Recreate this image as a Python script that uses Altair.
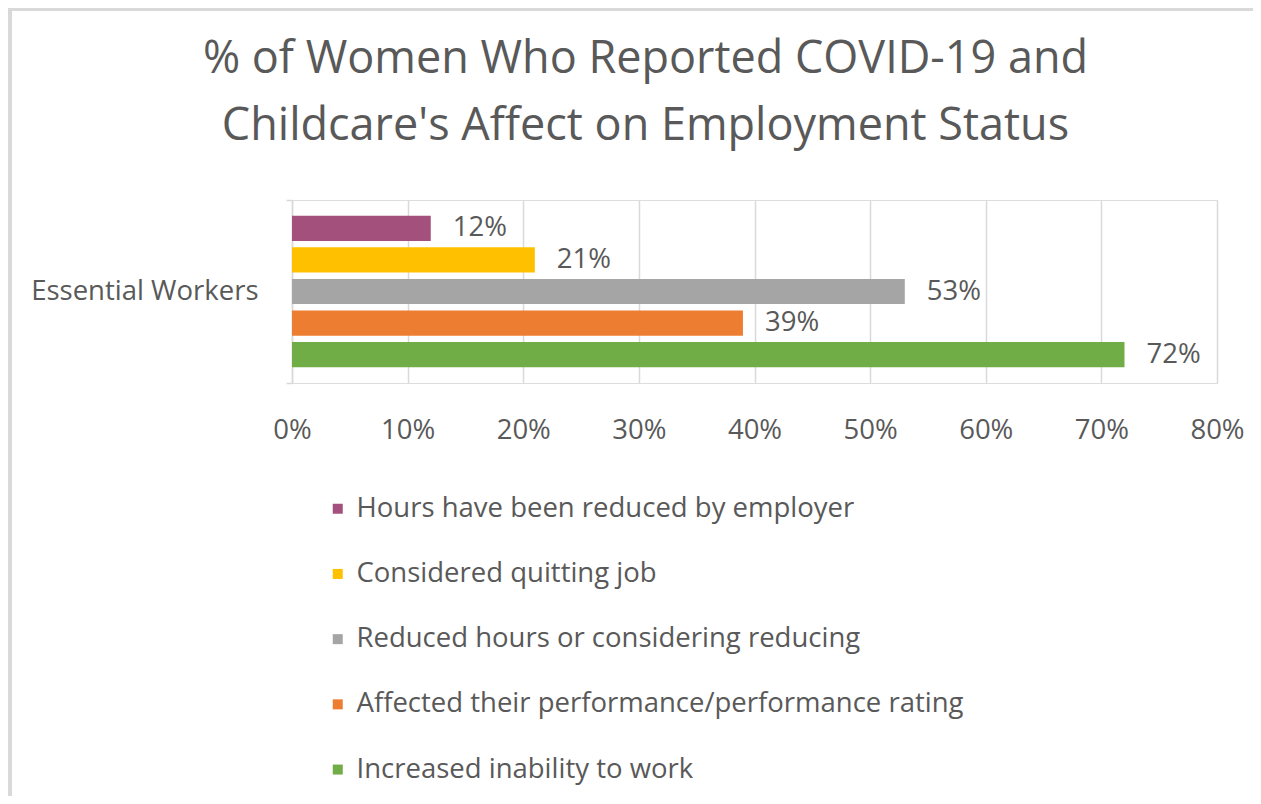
import altair as alt
import pandas as pd

group = "Essential Workers"
series = [
    "Hours have been reduced by employer",
    "Considered quitting job",
    "Reduced hours or considering reducing",
    "Affected their performance/performance rating",
    "Increased inability to work",
]
values = [0.12, 0.21, 0.53, 0.39, 0.72]
colors = ["#A4507D", "#FFC000", "#A5A5A5", "#ED7D31", "#70AD47"]
x_ticks = [0, 0.1, 0.2, 0.3, 0.4, 0.5, 0.6, 0.7, 0.8]

df = pd.DataFrame({"group": [group] * len(series), "series": series, "value": values})

FONT = "Open Sans"
TXT = "#595959"
GRID = "#D9D9D9"
FS = 27.5

base = alt.Chart(df)

y_enc = alt.Y("group:N", title=None,
              scale=alt.Scale(paddingInner=0, paddingOuter=0),
              axis=alt.Axis(labelFontSize=FS, labelFont=FONT, labelColor=TXT,
                            domainColor=GRID, domainWidth=1.5, tickColor=GRID,
                            tickWidth=1.5, tickSize=6, tickBand="extent",
                            labelPadding=28, labelLimit=400, grid=False))
yoff = alt.YOffset("series:N", sort=series,
                   scale=alt.Scale(paddingInner=0.2, paddingOuter=0.5))
x_enc = alt.X("value:Q", title=None,
              scale=alt.Scale(domain=[0, 0.8], nice=False),
              axis=alt.Axis(values=x_ticks, format=".0%", grid=True, gridColor=GRID,
                            gridWidth=1.5, domain=False, ticks=False, labelFlush=False,
                            labelFontSize=FS, labelFont=FONT, labelColor=TXT,
                            labelPadding=33))

bars = base.mark_bar().encode(
    x=x_enc, y=y_enc, yOffset=yoff,
    color=alt.Color("series:N", sort=series,
                    scale=alt.Scale(domain=series, range=colors),
                    legend=alt.Legend(title=None, orient="none", legendX=32, legendY=295,
                                      direction="vertical", symbolType="square",
                                      symbolSize=100, symbolStrokeWidth=0,
                                      labelFontSize=FS, labelFont=FONT, labelColor=TXT,
                                      labelOffset=5, rowPadding=36.2, padding=0,
                                      labelLimit=900)),
)

labels = base.mark_text(align="left", baseline="middle", dx=22, fontSize=FS,
                        font=FONT, color=TXT).encode(
    x="value:Q", y="group:N", yOffset=yoff,
    text=alt.Text("value:Q", format=".0%"),
)

frame_data = alt.Data(values=[{"k": 1}])
frame_top = alt.Chart(frame_data).mark_rule(color="#D9D9D9", strokeWidth=4).encode(
    x=alt.value(-284), x2=alt.value(961), y=alt.value(-191))
frame_left = alt.Chart(frame_data).mark_rule(color="#D9D9D9", strokeWidth=4).encode(
    x=alt.value(-282), y=alt.value(-192), y2=alt.value(600))

chart = alt.layer(bars, labels, frame_top, frame_left).properties(
    width=925, height=183,
    title=alt.TitleParams(
        text=["% of Women Who Reported COVID-19 and", "Childcare's Affect on Employment Status"],
        font=FONT, fontSize=45, fontWeight="normal", color=TXT,
        anchor="middle", dx=-109, lineHeight=67, offset=0, dy=143),
    autosize=alt.AutoSizeParams(type="none"),
    padding={"left": 284, "top": 192, "right": 36, "bottom": 413},
).configure_view(stroke=None).configure(background="white")

chart.save("out.html", embed_options={"renderer": "svg", "actions": False})
